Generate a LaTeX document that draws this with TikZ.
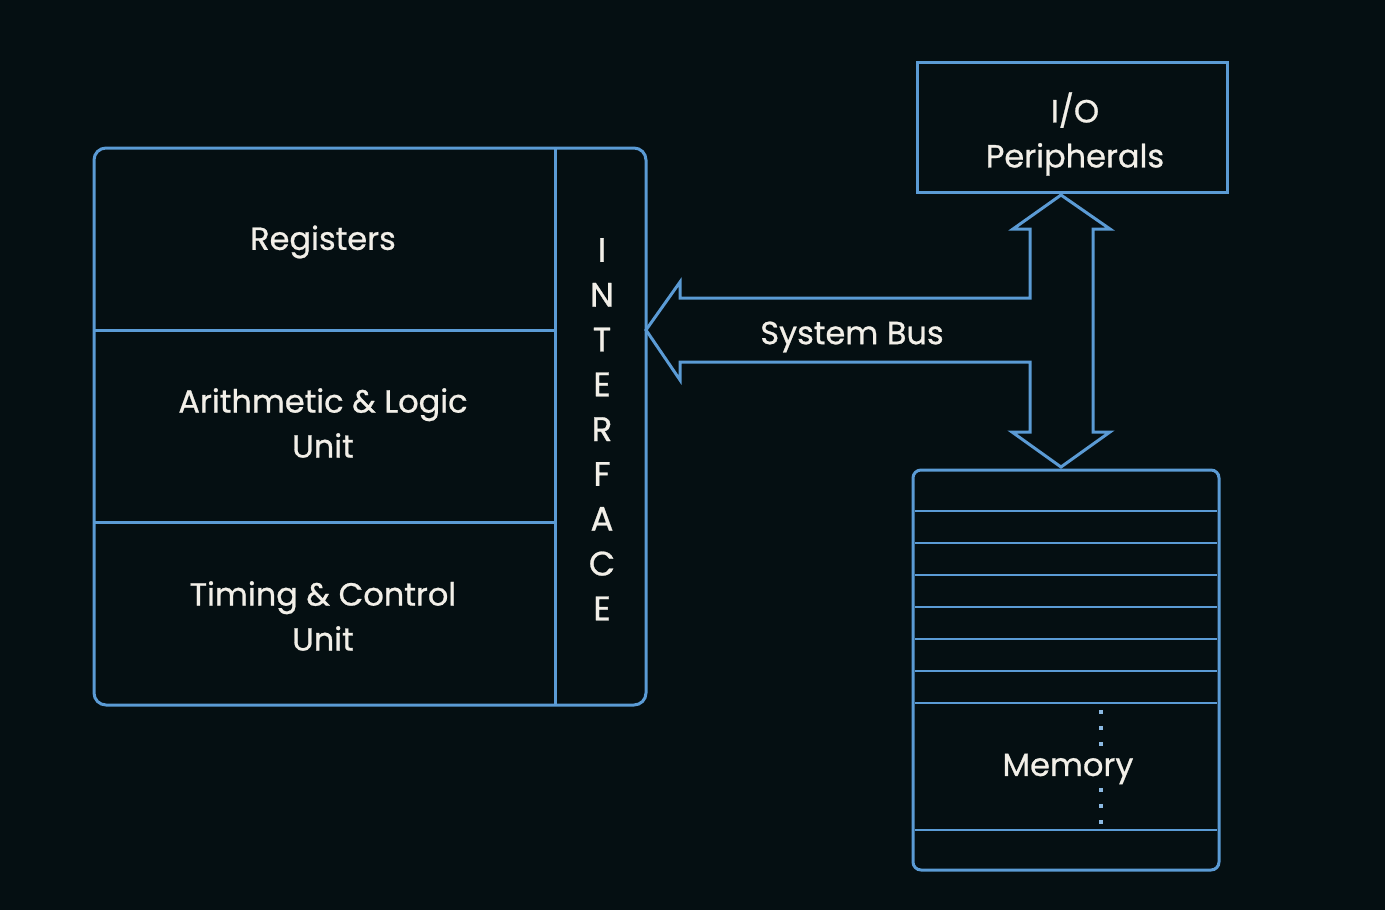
\documentclass[tikz,border=0pt]{standalone}
\usepackage{fontspec}
\setmainfont{Poppins}
\newfontfamily\lblfont{Poppins}[BoldFont={Poppins},BoldFeatures={FakeBold=0.8}]
\definecolor{bg}{HTML}{050F12}
\definecolor{ln}{HTML}{5B9BD5}
\definecolor{tx}{HTML}{F2EFE8}
\tikzset{
  ln/.style={draw=ln,line width=3pt},
  thin/.style={draw=ln,line width=2.2pt},
  lbl/.style={text=tx,font=\lblfont\bfseries\fontsize{32}{45}\selectfont,align=center,inner sep=0pt},
  dot/.style={fill=ln!70!white,minimum size=4pt,inner sep=0pt,rectangle},
}
\begin{document}
\begin{tikzpicture}[x=1pt,y=-1pt]
\fill[bg] (0,0) rectangle (1385,910);
\useasboundingbox (0,0) rectangle (1385,910);
% CPU
\draw[ln,rounded corners=12pt] (94,148) rectangle (646,705);
\draw[ln] (555,148) -- (555,705);
\draw[ln] (94,330) -- (555,330);
\draw[ln] (94,522) -- (555,522);
\node[lbl] (reg) at (323,242) {Registers};
\node[lbl] (alu) at (323,423) {Arithmetic \& Logic\\Unit};
\node[lbl] (tcu) at (323,616) {Timing \& Control\\Unit};
\foreach \l [count=\i] in {I,N,T,E,R,F,A,C,E}
  \node[lbl,font=\lblfont\bfseries\fontsize{34}{45}\selectfont] (if\i) at (602,{250+44.8*(\i-1)}) {\l};
% I/O
\draw[ln] (917,62) rectangle (1227,192);
\node[lbl] (io) at (1075,134) {I/O\\Peripherals};
% Memory
\draw[ln,rounded corners=8pt] (913,470) rectangle (1219,870);
\foreach \y in {511,543,575,607,639,671,703,830}
  \draw[thin] (915,\y) -- (1217,\y);
\foreach \y in {712,728,744,790,806,822}
  \node[dot] at (1101,\y) {};
\node[lbl] (mem) at (1068,769) {Memory};
% Bus arrow
\draw[ln,line join=miter] (680,298) -- (1030,298) -- (1030,229) -- (1013,229) -- (1061,195)
  -- (1110,229) -- (1093,229) -- (1093,432) -- (1110,432) -- (1061,467) -- (1012,432)
  -- (1030,432) -- (1030,362) -- (680,362) -- (680,380) -- (646,330) -- (680,282) -- cycle;
\node[lbl] (bus) at (852,337) {System Bus};
\end{tikzpicture}
\end{document}
